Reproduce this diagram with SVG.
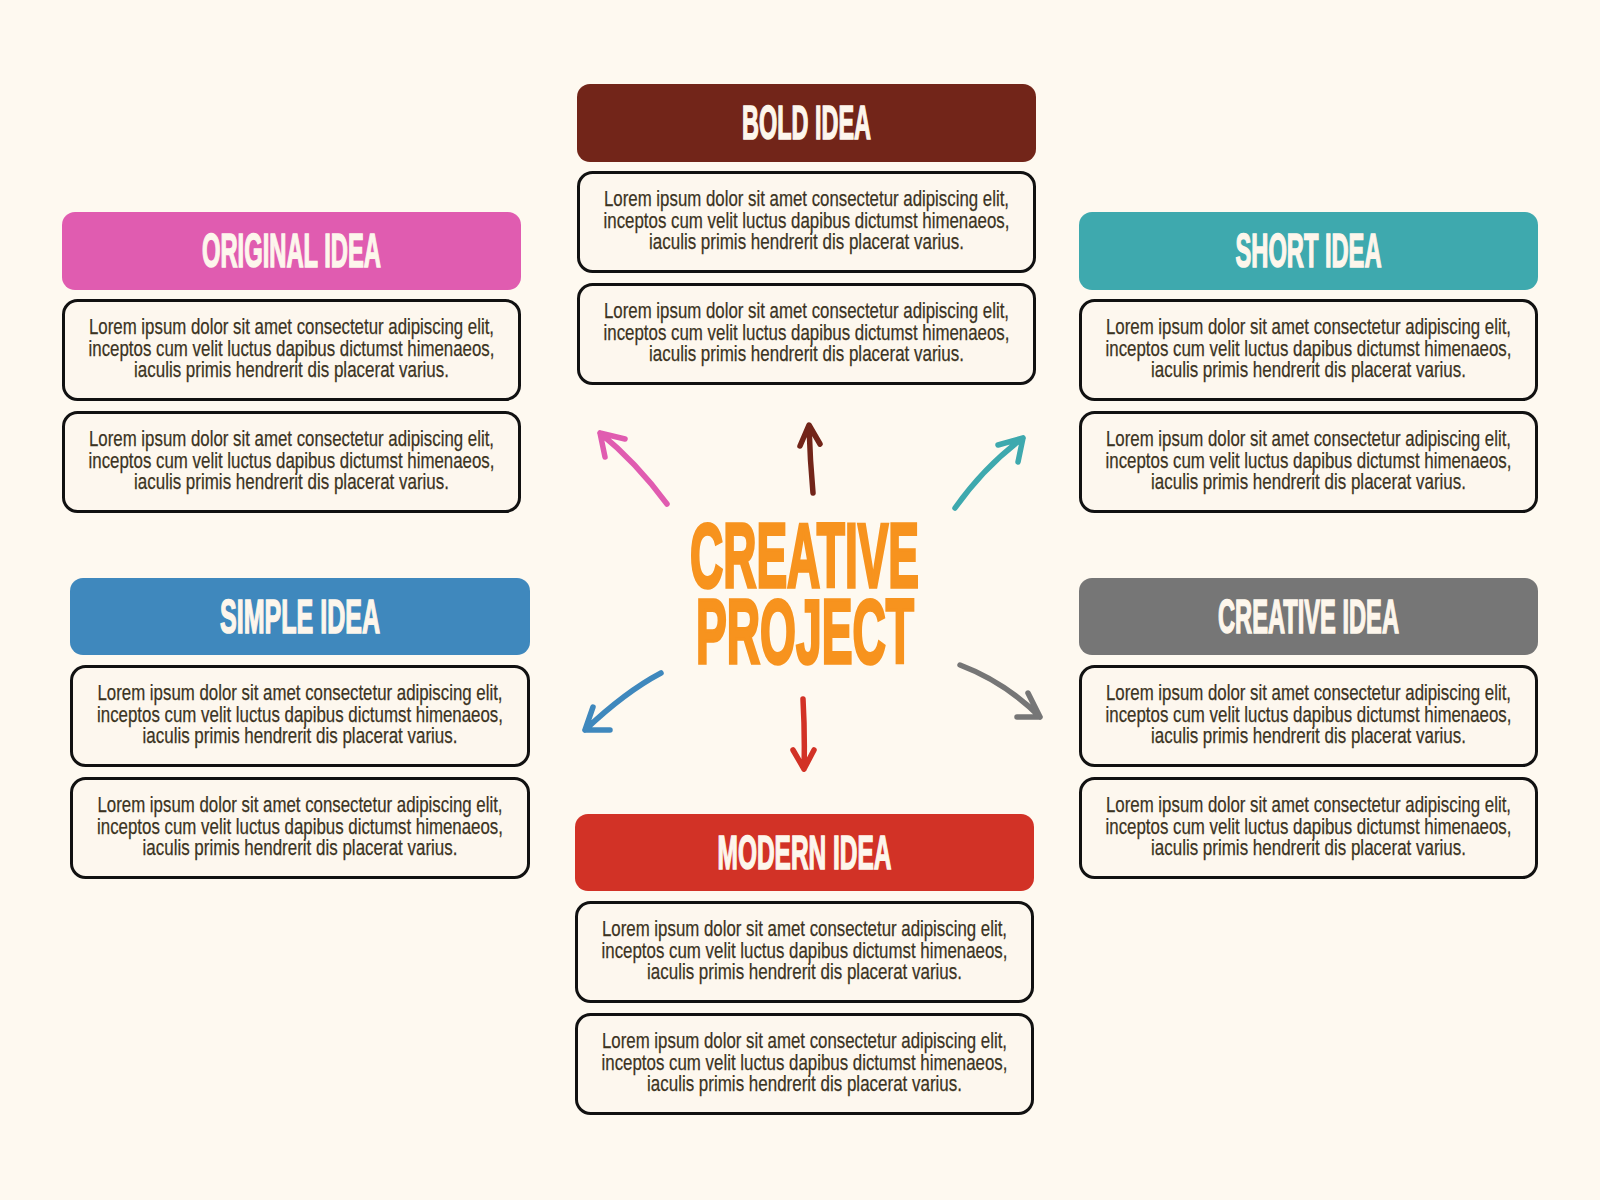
<svg xmlns="http://www.w3.org/2000/svg" width="1600" height="1200" viewBox="0 0 1600 1200">
<style>
.hdr{font-family:"Liberation Sans",Arial,sans-serif;font-weight:700;font-size:48px;fill:#fdf6ec;stroke:#fdf6ec;stroke-width:1.6;text-anchor:middle}
.box{fill:#fdf7ee;stroke:#111;stroke-width:3}
.body{font-family:"Liberation Sans Narrow","Liberation Sans",Arial,sans-serif;font-size:22.5px;fill:#3b3322;stroke:#3b3322;stroke-width:0.25;text-anchor:middle}
.title{font-family:"Liberation Sans",Arial,sans-serif;font-weight:700;font-size:90px;fill:#f7931e;stroke:#f7931e;stroke-width:3.5;text-anchor:middle}
.arr{fill:none;stroke-width:5.5;stroke-linecap:round;stroke-linejoin:round}
</style>
<defs>
<g id="lorem">
<text class="body" x="0" y="35" textLength="405" lengthAdjust="spacingAndGlyphs">Lorem ipsum dolor sit amet consectetur adipiscing elit,</text>
<text class="body" x="0" y="56.5" textLength="406" lengthAdjust="spacingAndGlyphs">inceptos cum velit luctus dapibus dictumst himenaeos,</text>
<text class="body" x="0" y="78" textLength="315" lengthAdjust="spacingAndGlyphs">iaculis primis hendrerit dis placerat varius.</text>
</g>
</defs>
<rect width="1600" height="1200" fill="#fef9f0"/>

<g id="bold-idea">
<rect x="577" y="84" width="459" height="78" rx="13" fill="#722519"/>
<text class="hdr" x="806.5" y="139" textLength="129" lengthAdjust="spacingAndGlyphs">BOLD IDEA</text>
<rect class="box" x="578.5" y="172.5" width="456" height="99" rx="14"/>
<use href="#lorem" x="806.5" y="171"/>
<rect class="box" x="578.5" y="284.5" width="456" height="99" rx="14"/>
<use href="#lorem" x="806.5" y="283"/>
</g>

<g id="original-idea">
<rect x="62" y="212" width="459" height="78" rx="13" fill="#e05cb0"/>
<text class="hdr" x="291.5" y="267" textLength="179" lengthAdjust="spacingAndGlyphs">ORIGINAL IDEA</text>
<rect class="box" x="63.5" y="300.5" width="456" height="99" rx="14"/>
<use href="#lorem" x="291.5" y="299"/>
<rect class="box" x="63.5" y="412.5" width="456" height="99" rx="14"/>
<use href="#lorem" x="291.5" y="411"/>
</g>

<g id="short-idea">
<rect x="1079" y="212" width="459" height="78" rx="13" fill="#3ea9ae"/>
<text class="hdr" x="1308.5" y="267" textLength="146" lengthAdjust="spacingAndGlyphs">SHORT IDEA</text>
<rect class="box" x="1080.5" y="300.5" width="456" height="99" rx="14"/>
<use href="#lorem" x="1308.5" y="299"/>
<rect class="box" x="1080.5" y="412.5" width="456" height="99" rx="14"/>
<use href="#lorem" x="1308.5" y="411"/>
</g>

<g id="simple-idea">
<rect x="70" y="578" width="460" height="77" rx="13" fill="#3f88bd"/>
<text class="hdr" x="300" y="633" textLength="160" lengthAdjust="spacingAndGlyphs">SIMPLE IDEA</text>
<rect class="box" x="71.5" y="666.5" width="457" height="99" rx="14"/>
<use href="#lorem" x="300" y="665"/>
<rect class="box" x="71.5" y="778.5" width="457" height="99" rx="14"/>
<use href="#lorem" x="300" y="777"/>
</g>

<g id="creative-idea">
<rect x="1079" y="578" width="459" height="77" rx="13" fill="#767676"/>
<text class="hdr" x="1308.5" y="633" textLength="181" lengthAdjust="spacingAndGlyphs">CREATIVE IDEA</text>
<rect class="box" x="1080.5" y="666.5" width="456" height="99" rx="14"/>
<use href="#lorem" x="1308.5" y="665"/>
<rect class="box" x="1080.5" y="778.5" width="456" height="99" rx="14"/>
<use href="#lorem" x="1308.5" y="777"/>
</g>

<g id="modern-idea">
<rect x="575" y="814" width="459" height="77" rx="13" fill="#d23226"/>
<text class="hdr" x="804.5" y="869" textLength="174" lengthAdjust="spacingAndGlyphs">MODERN IDEA</text>
<rect class="box" x="576.5" y="902.5" width="456" height="99" rx="14"/>
<use href="#lorem" x="804.5" y="901"/>
<rect class="box" x="576.5" y="1014.5" width="456" height="99" rx="14"/>
<use href="#lorem" x="804.5" y="1013"/>
</g>

<g id="creative-project">
<text class="title" x="804.5" y="587" textLength="229" lengthAdjust="spacingAndGlyphs">CREATIVE</text>
<text class="title" x="805" y="663" textLength="218" lengthAdjust="spacingAndGlyphs">PROJECT</text>
</g>

<g id="connectors">
<path class="arr" stroke="#e05cb0" d="M667,504 Q636,462 600,433 M625,439 L600,433 L605,457"/>
<path class="arr" stroke="#722519" d="M813,493 Q810,460 809,426 M800,446 L809,425 L820,444"/>
<path class="arr" stroke="#3ea9ae" d="M955,508 Q985,466 1023,438 M998,445 L1023,438 L1018,462"/>
<path class="arr" stroke="#3f88bd" d="M661,673 Q625,692 585,730 M593,707 L585,730 L610,730"/>
<path class="arr" stroke="#767676" d="M960,665 Q1005,682 1040,717 M1028,693 L1040,717 L1017,717"/>
<path class="arr" stroke="#d23226" d="M803,699 Q805,735 804,769 M793,750 L804,769 L814,750"/>
</g>
</svg>
